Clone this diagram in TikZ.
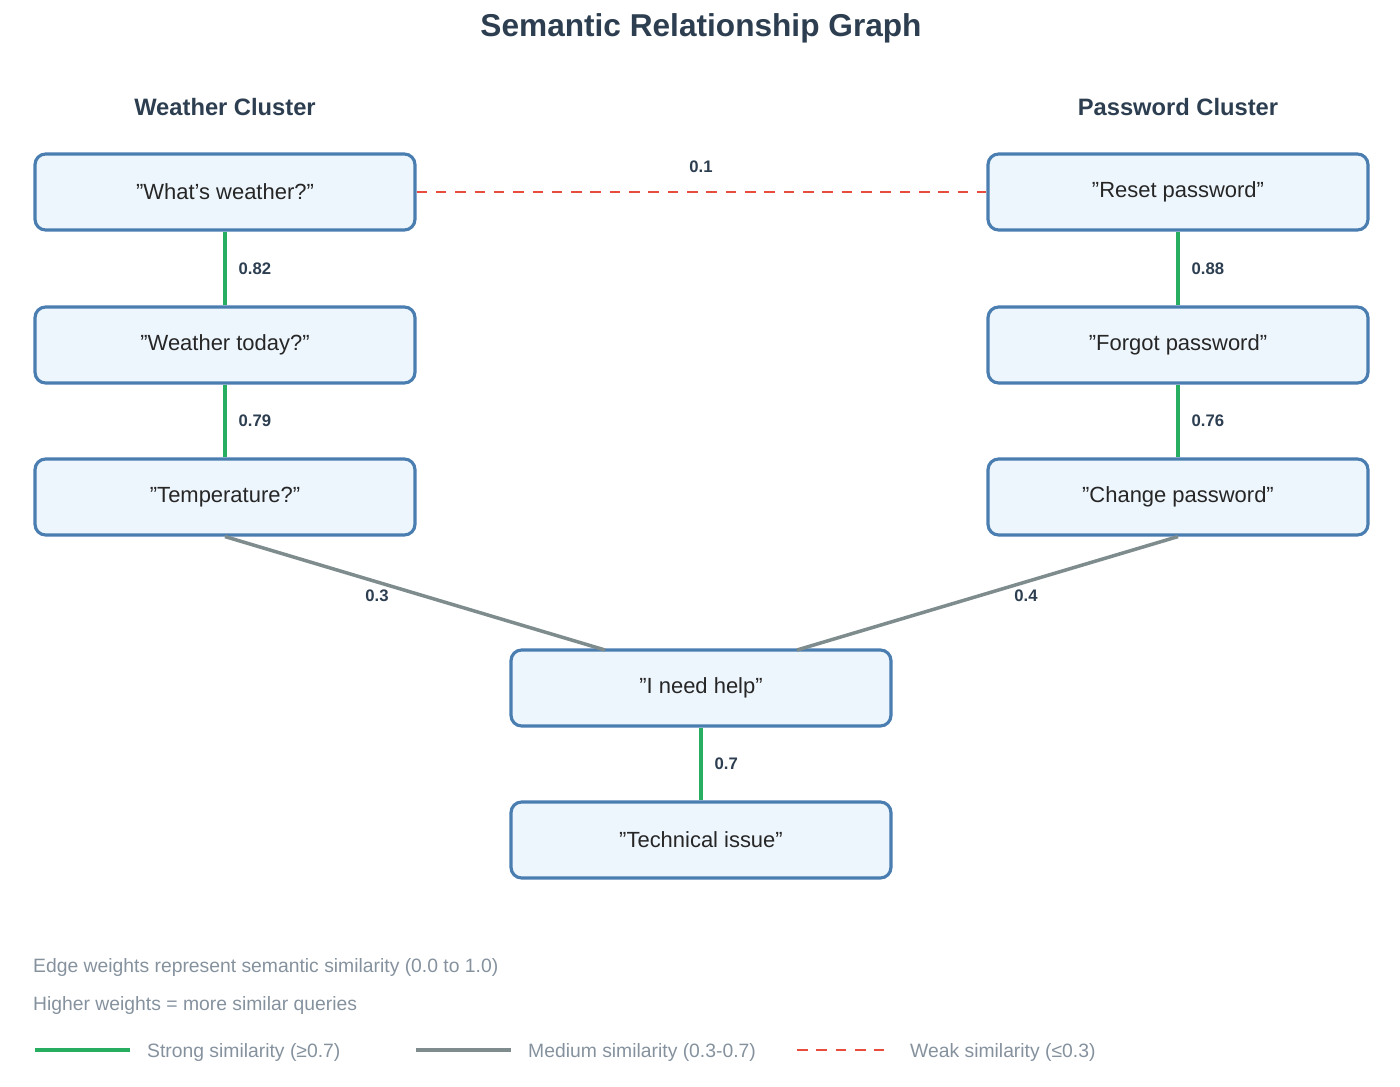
\documentclass[tikz,border=0pt]{standalone}
\usepackage{fontspec}
\setmainfont{Liberation Sans}
\usetikzlibrary{calc}
\definecolor{boxfill}{HTML}{EEF6FD}
\definecolor{boxdraw}{HTML}{4A7DB0}
\definecolor{dark}{HTML}{2C3E50}
\definecolor{strong}{HTML}{27AE60}
\definecolor{medium}{HTML}{7F8C8D}
\definecolor{weak}{HTML}{E74C3C}
\definecolor{note}{HTML}{85929E}
\begin{document}
\begin{tikzpicture}[x=0.02cm,y=-0.02cm,
  box/.style={draw=boxdraw,line width=1.8pt,fill=boxfill,rounded corners=6pt,minimum width=7.6cm,minimum height=1.52cm,font=\fontsize{12.5}{14}\selectfont,text=black!85},
  lbl/.style={font=\bfseries\fontsize{9.5}{11}\selectfont,text=dark},
  se/.style={strong,line width=2.8pt},
  me/.style={medium,line width=2pt},
  we/.style={weak,line width=0.8pt,dash pattern=on 6pt off 5pt},
  legtxt/.style={font=\fontsize{11}{13}\selectfont,text=note,anchor=west}]
\useasboundingbox (0,0) rectangle (1400,1087);
\node[font=\bfseries\fontsize{18}{21}\selectfont,text=dark] (title) at (701,28) {Semantic Relationship Graph};
\node[font=\bfseries\fontsize{13.5}{16}\selectfont,text=dark] (wc) at (225,107) {Weather Cluster};
\node[font=\bfseries\fontsize{13.5}{16}\selectfont,text=dark] (pc) at (1178,107) {Password Cluster};
\node[box] (w1) at (225,192) {"What's weather?"};
\node[box] (w2) at (225,345) {"Weather today?"};
\node[box] (w3) at (225,497) {"Temperature?"};
\node[box] (p1) at (1178,192) {"Reset password"};
\node[box] (p2) at (1178,345) {"Forgot password"};
\node[box] (p3) at (1178,497) {"Change password"};
\node[box] (h) at (701,688) {"I need help"};
\node[box] (t) at (701,840) {"Technical issue"};
\coordinate (hl) at (605,650);
\coordinate (hr) at (797,650);
\draw[se] (w1) -- node[lbl,right=3pt]{0.82} (w2);
\draw[se] (w2) -- node[lbl,right=3pt]{0.79} (w3);
\draw[se] (p1) -- node[lbl,right=3pt]{0.88} (p2);
\draw[se] (p2) -- node[lbl,right=3pt]{0.76} (p3);
\draw[se] (h) -- node[lbl,right=3pt]{0.7} (t);
\draw[we] (w1.east) -- (p1.west);
\node[lbl] (l01) at (701,167) {0.1};
\draw[me] (w3.south) -- (hl);
\draw[me] (p3.south) -- (hr);
\node[lbl] (l03) at (377,596) {0.3};
\node[lbl] (l04) at (1026,596) {0.4};
\node[legtxt] (n1) at (27,967) {Edge weights represent semantic similarity (0.0 to 1.0)};
\node[legtxt] (n2) at (27,1005) {Higher weights = more similar queries};
\coordinate (a1) at (35,1050); \coordinate (a2) at (130,1050);
\coordinate (b1) at (416,1050); \coordinate (b2) at (511,1050);
\coordinate (c1) at (797,1050); \coordinate (c2) at (884,1050);
\draw[strong,line width=2.8pt] (a1) -- (a2);
\draw[medium,line width=2pt] (b1) -- (b2);
\draw[we] (c1) -- (c2);
\node[legtxt] (g1) at (141,1052) {Strong similarity (≥0.7)};
\node[legtxt] (g2) at (522,1052) {Medium similarity (0.3-0.7)};
\node[legtxt] (g3) at (904,1052) {Weak similarity (≤0.3)};
\end{tikzpicture}
\end{document}
